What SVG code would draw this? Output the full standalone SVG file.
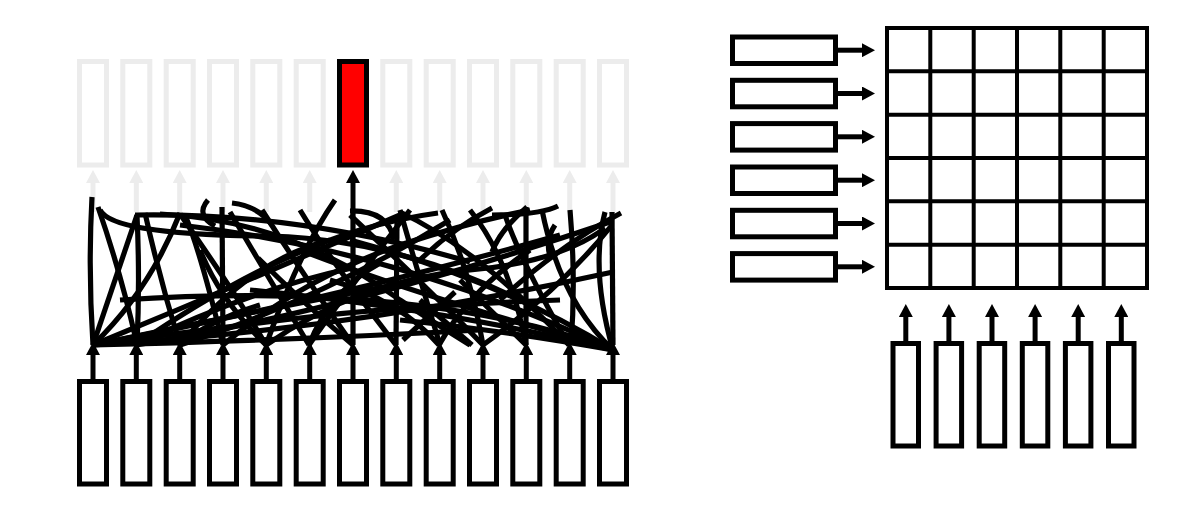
<svg xmlns="http://www.w3.org/2000/svg" width="1198" height="522" viewBox="0 0 1198 522">
<defs>
<marker id="ah" markerWidth="13" markerHeight="14" refX="0" refY="7" orient="auto" markerUnits="userSpaceOnUse"><path d="M0,0 L13,7 L0,14 z" fill="#000"/></marker>
<marker id="ahg" markerWidth="13" markerHeight="14" refX="0" refY="7" orient="auto" markerUnits="userSpaceOnUse"><path d="M0,0 L13,7 L0,14 z" fill="#ececec"/></marker>
</defs>
<style>
.box{fill:#fff;stroke:#000;stroke-width:5}
.gbox{fill:#fff;stroke:#ececec;stroke-width:5}
.red{fill:#ff0000;stroke:#000;stroke-width:5}
.arr{fill:none;stroke:#000;stroke-width:5;marker-end:url(#ah)}
.garr{fill:none;stroke:#ececec;stroke-width:5;marker-end:url(#ahg)}
.t{fill:none;stroke:#000;stroke-width:5.2}
.grid{fill:none;stroke:#000;stroke-width:4}
</style>
<g id="outputs">
<rect class="gbox" x="79.5" y="61.5" width="27" height="103.5"/>
<rect class="gbox" x="122.8" y="61.5" width="27" height="103.5"/>
<rect class="gbox" x="166.2" y="61.5" width="27" height="103.5"/>
<rect class="gbox" x="209.5" y="61.5" width="27" height="103.5"/>
<rect class="gbox" x="252.8" y="61.5" width="27" height="103.5"/>
<rect class="gbox" x="296.2" y="61.5" width="27" height="103.5"/>
<rect class="gbox" x="382.8" y="61.5" width="27" height="103.5"/>
<rect class="gbox" x="426.2" y="61.5" width="27" height="103.5"/>
<rect class="gbox" x="469.5" y="61.5" width="27" height="103.5"/>
<rect class="gbox" x="512.8" y="61.5" width="27" height="103.5"/>
<rect class="gbox" x="556.2" y="61.5" width="27" height="103.5"/>
<rect class="gbox" x="599.5" y="61.5" width="27" height="103.5"/>
</g>
<g id="selected">
<rect class="red" x="339.5" y="61.5" width="27" height="103.5"/>
</g>
<g id="inputs">
<rect class="box" x="79.5" y="381.5" width="27" height="102.5"/>
<rect class="box" x="122.8" y="381.5" width="27" height="102.5"/>
<rect class="box" x="166.2" y="381.5" width="27" height="102.5"/>
<rect class="box" x="209.5" y="381.5" width="27" height="102.5"/>
<rect class="box" x="252.8" y="381.5" width="27" height="102.5"/>
<rect class="box" x="296.2" y="381.5" width="27" height="102.5"/>
<rect class="box" x="339.5" y="381.5" width="27" height="102.5"/>
<rect class="box" x="382.8" y="381.5" width="27" height="102.5"/>
<rect class="box" x="426.2" y="381.5" width="27" height="102.5"/>
<rect class="box" x="469.5" y="381.5" width="27" height="102.5"/>
<rect class="box" x="512.8" y="381.5" width="27" height="102.5"/>
<rect class="box" x="556.2" y="381.5" width="27" height="102.5"/>
<rect class="box" x="599.5" y="381.5" width="27" height="102.5"/>
</g>
<g id="rows">
<rect class="box" x="732.5" y="37" width="103" height="26.5"/>
<rect class="box" x="732.5" y="80.3" width="103" height="26.5"/>
<rect class="box" x="732.5" y="123.6" width="103" height="26.5"/>
<rect class="box" x="732.5" y="167" width="103" height="26.5"/>
<rect class="box" x="732.5" y="210.3" width="103" height="26.5"/>
<rect class="box" x="732.5" y="253.6" width="103" height="26.5"/>
</g>
<g id="cols">
<rect class="box" x="893" y="343.5" width="25.5" height="102.5"/>
<rect class="box" x="936.1" y="343.5" width="25.5" height="102.5"/>
<rect class="box" x="979.2" y="343.5" width="25.5" height="102.5"/>
<rect class="box" x="1022.3" y="343.5" width="25.5" height="102.5"/>
<rect class="box" x="1065.4" y="343.5" width="25.5" height="102.5"/>
<rect class="box" x="1108.5" y="343.5" width="25.5" height="102.5"/>
</g>
<g id="matrix">
<rect class="grid" x="887" y="28" width="260" height="260"/>
<path class="grid" d="M930.3 28V288M973.7 28V288M1017 28V288M1060.3 28V288M1103.7 28V288M887 71.3H1147M887 114.7H1147M887 158H1147M887 201.3H1147M887 244.7H1147"/>
</g>
<g id="connectors">
<path class="garr" d="M93 212V183"/>
<path class="garr" d="M136.3 212V183"/>
<path class="garr" d="M179.7 212V183"/>
<path class="garr" d="M223 212V183"/>
<path class="garr" d="M266.3 212V183"/>
<path class="garr" d="M309.7 212V183"/>
<path class="garr" d="M396.3 212V183"/>
<path class="garr" d="M439.7 212V183"/>
<path class="garr" d="M483 212V183"/>
<path class="garr" d="M526.3 212V183"/>
<path class="garr" d="M569.7 212V183"/>
<path class="garr" d="M613 212V183"/>
<path class="arr" d="M353 212V183"/>
<path class="arr" d="M93 381V355"/>
<path class="arr" d="M136.3 381V355"/>
<path class="arr" d="M179.7 381V355"/>
<path class="arr" d="M223 381V355"/>
<path class="arr" d="M266.3 381V355"/>
<path class="arr" d="M309.7 381V355"/>
<path class="arr" d="M353 381V355"/>
<path class="arr" d="M396.3 381V355"/>
<path class="arr" d="M439.7 381V355"/>
<path class="arr" d="M483 381V355"/>
<path class="arr" d="M526.3 381V355"/>
<path class="arr" d="M569.7 381V355"/>
<path class="arr" d="M613 381V355"/>
<path class="arr" d="M836 50.2H862"/>
<path class="arr" d="M836 93.5H862"/>
<path class="arr" d="M836 136.8H862"/>
<path class="arr" d="M836 180.2H862"/>
<path class="arr" d="M836 223.5H862"/>
<path class="arr" d="M836 266.8H862"/>
<path class="arr" d="M905.8 343V317"/>
<path class="arr" d="M948.9 343V317"/>
<path class="arr" d="M992 343V317"/>
<path class="arr" d="M1035.1 343V317"/>
<path class="arr" d="M1078.2 343V317"/>
<path class="arr" d="M1121.3 343V317"/>
</g>
<g id="tangle">
<path class="t" d="M93 345Q88 270 92 197"/>
<path class="t" d="M136 340Q120 270 98 207"/>
<path class="t" d="M93 345L137 215"/>
<path class="t" d="M137 345Q140 280 137 215"/>
<path class="t" d="M93 345Q150 290 180 213"/>
<path class="t" d="M180 345Q160 280 145 213"/>
<path class="t" d="M93 345Q250 280 400 215"/>
<path class="t" d="M93 345Q330 300 560 235"/>
<path class="t" d="M93 345Q350 330 613 272"/>
<path class="t" d="M93 345Q300 340 480 330"/>
<path class="t" d="M93 345Q260 310 420 280"/>
<path class="t" d="M136 345Q350 310 610 222"/>
<path class="t" d="M136 345Q250 290 352 268"/>
<path class="t" d="M223 345Q200 250 185 215"/>
<path class="t" d="M223 343L222 207"/>
<path class="t" d="M100 210Q112 235 270 236Q400 240 520 300"/>
<path class="t" d="M135 215Q300 212 470 262"/>
<path class="t" d="M160 214Q290 220 400 300Q430 320 470 345"/>
<path class="t" d="M180 214Q240 300 266 345"/>
<path class="t" d="M208 200Q195 215 215 226"/>
<path class="t" d="M232 203Q258 206 272 225"/>
<path class="t" d="M262 210Q300 270 353 345"/>
<path class="t" d="M266 345Q300 250 335 200"/>
<path class="t" d="M353 345L353 210"/>
<path class="t" d="M350 211Q388 210 394 240"/>
<path class="t" d="M309 345Q270 280 230 212"/>
<path class="t" d="M396 345L397 223"/>
<path class="t" d="M440 345Q420 280 400 210"/>
<path class="t" d="M483 345Q470 270 442 210"/>
<path class="t" d="M403 340L455 292"/>
<path class="t" d="M420 300L472 345"/>
<path class="t" d="M526 345Q510 260 470 210"/>
<path class="t" d="M492 208Q450 230 418 262"/>
<path class="t" d="M527 207Q500 230 492 252"/>
<path class="t" d="M526 207L526 345"/>
<path class="t" d="M558 206Q540 215 492 215"/>
<path class="t" d="M570 210Q576 280 571 345"/>
<path class="t" d="M612 212L613 345"/>
<path class="t" d="M613 350Q590 270 605 212"/>
<path class="t" d="M621 213Q560 245 500 300"/>
<path class="t" d="M613 350Q500 280 350 240"/>
<path class="t" d="M613 350Q400 250 180 225"/>
<path class="t" d="M613 350Q450 310 250 290"/>
<path class="t" d="M613 350Q500 330 400 320"/>
<path class="t" d="M613 350Q420 280 120 300"/>
<path class="t" d="M600 345Q430 300 300 250"/>
<path class="t" d="M613 350Q560 300 542 210"/>
<path class="t" d="M569 345Q520 260 505 215"/>
<path class="t" d="M353 345Q300 300 258 258"/>
<path class="t" d="M180 345Q250 260 330 240"/>
<path class="t" d="M266 345Q220 300 200 250"/>
<path class="t" d="M439 345Q470 290 530 250"/>
<path class="t" d="M483 345Q560 290 612 225"/>
<path class="t" d="M309 345Q340 300 410 210"/>
<path class="t" d="M396 345Q330 260 300 210"/>
<path class="t" d="M555 225Q545 240 550 256"/>
<path class="t" d="M180 345Q320 300 450 220"/>
<path class="t" d="M223 345Q300 280 400 245Q470 222 530 210"/>
<path class="t" d="M266 345Q360 280 470 270Q560 262 605 228"/>
<path class="t" d="M309 345Q330 290 382 262"/>
<path class="t" d="M439 345Q400 300 330 280"/>
<path class="t" d="M483 345Q430 290 350 215"/>
<path class="t" d="M526 345Q480 300 460 280"/>
<path class="t" d="M569 345Q480 250 400 212"/>
<path class="t" d="M93 345Q200 330 300 318Q400 306 560 300"/>
<path class="t" d="M136 345Q260 260 360 230Q400 218 438 213"/>
<path class="t" d="M180 345Q210 320 260 305"/>
</g>
</svg>
